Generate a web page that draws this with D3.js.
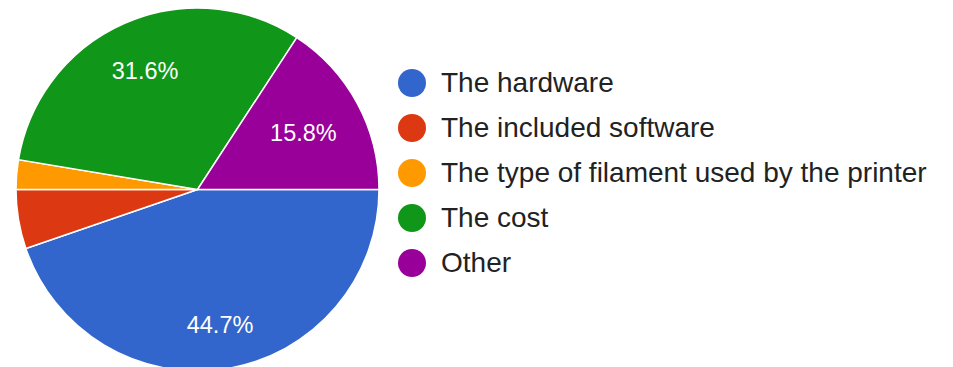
<!DOCTYPE html>
<html>
<head>
<meta charset="utf-8">
<script src="https://cdn.jsdelivr.net/npm/d3@7"></script>
<style>
  html, body { margin: 0; padding: 0; background: #fff; }
  svg text { font-family: "Liberation Sans", Arial, sans-serif; }
</style>
</head>
<body>
<div id="chart"></div>
<script>
// answers (counts out of 38 responses)
const categories = ["The hardware", "The included software", "The type of filament used by the printer", "The cost", "Other"];
const counts = [17, 2, 1, 12, 6];
const colors = ["#3366cc", "#dc3912", "#ff9900", "#109618", "#990099"];

const width = 953, height = 367;
const cx = 197.5, cy = 189.5, radius = 181.5;
const labelRadius = 154; // far corner of each label box sits on this circle

const svg = d3.select("#chart").append("svg")
  .attr("width", width)
  .attr("height", height);

const total = d3.sum(counts);
const data = categories.map((name, i) => ({ name, value: counts[i], color: colors[i] }));

const pie = d3.pie()
  .value(d => d.value)
  .sort(null)
  .startAngle(Math.PI / 2)
  .endAngle(Math.PI / 2 + 2 * Math.PI);

const arc = d3.arc().innerRadius(0).outerRadius(radius);

const g = svg.append("g").attr("transform", `translate(${cx},${cy})`);
const arcs = pie(data);

g.selectAll("path.slice")
  .data(arcs)
  .enter().append("path")
  .attr("class", "slice")
  .attr("d", arc)
  .attr("fill", d => d.data.color)
  .attr("stroke", "#fff")
  .attr("stroke-width", 1.5);

// percentage labels, only on slices large enough
const fmt = d => (d.data.value / total * 100).toFixed(1) + "%";
const labelled = arcs.filter(d => d.data.value / total > 0.1);

g.selectAll("text.pct")
  .data(labelled)
  .enter().append("text")
  .attr("class", "pct")
  .attr("fill", "#fff")
  .attr("font-size", 23.5)
  .attr("text-anchor", "middle")
  .text(fmt)
  .each(function (d) {
    const hw = this.getComputedTextLength() / 2;
    const hh = 8.5;
    const a = (d.startAngle + d.endAngle) / 2;
    const ux = Math.sin(a), uy = -Math.cos(a);
    const b = Math.abs(ux) * hw + Math.abs(uy) * hh;
    const c = hw * hw + hh * hh - labelRadius * labelRadius;
    const dist = -b + Math.sqrt(b * b - c);
    d3.select(this)
      .attr("x", ux * dist)
      .attr("y", uy * dist + hh);
  });

// legend
const legend = svg.append("g").attr("transform", "translate(412,83)");
const row = legend.selectAll("g.item")
  .data(data)
  .enter().append("g")
  .attr("class", "item")
  .attr("transform", (d, i) => `translate(0,${i * 45})`);

row.append("circle")
  .attr("r", 14)
  .attr("fill", d => d.color);

row.append("text")
  .attr("x", 29)
  .attr("y", 9)
  .attr("font-size", 28)
  .attr("fill", "#222")
  .text(d => d.name);
</script>
</body>
</html>
